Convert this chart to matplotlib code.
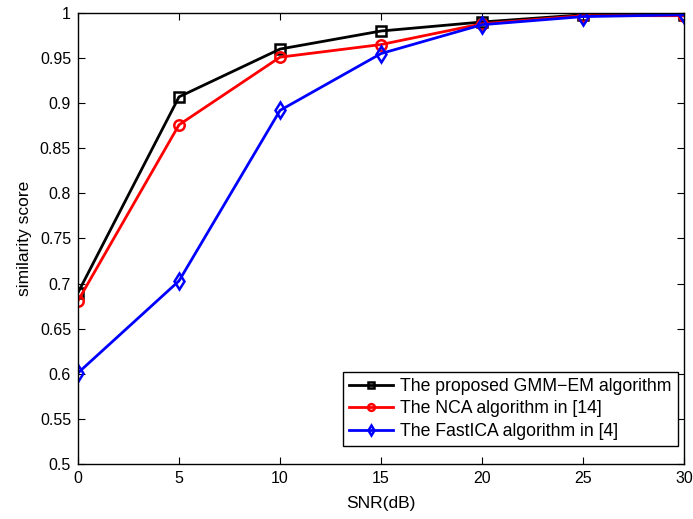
import matplotlib
matplotlib.use("Agg")
import matplotlib.pyplot as plt

plt.rcParams['font.family'] = ['Liberation Sans', 'DejaVu Sans']

snr = [0, 5, 10, 15, 20, 25, 30]
gmm_em = [0.690, 0.907, 0.960, 0.980, 0.990, 0.998, 0.998]
nca = [0.681, 0.876, 0.951, 0.965, 0.988, 0.997, 0.997]
fastica = [0.601, 0.703, 0.892, 0.955, 0.987, 0.996, 0.998]

labels = ["The proposed GMM\u2212EM algorithm",
          "The NCA algorithm in [14]",
          "The FastICA algorithm in [4]"]

fig = plt.figure(figsize=(6.93, 5.19), dpi=100)
ax = fig.add_axes([0.1126, 0.106, 0.8744, 0.869])

ax.plot(snr, gmm_em, color='black', lw=2, marker='s', ms=6.5, mew=1.8,
        mfc='none', label=labels[0])
ax.plot(snr, nca, color='red', lw=2, marker='o', ms=7.5, mew=1.8,
        mfc='none', label=labels[1])
ax.plot(snr, fastica, color='blue', lw=2, marker='d', ms=8, mew=1.8,
        mfc='none', label=labels[2])

ax.set_xlim(0, 30)
ax.set_ylim(0.5, 1.0)
ax.set_xticks(range(0, 31, 5))
ax.set_yticks([0.5 + 0.05 * i for i in range(11)])
ax.set_yticklabels(['0.5', '0.55', '0.6', '0.65', '0.7', '0.75', '0.8',
                    '0.85', '0.9', '0.95', '1'])
ax.tick_params(direction='in', top=True, right=True, length=5, width=0.8,
               labelsize=11.5, pad=5)
for s in ax.spines.values():
    s.set_linewidth(1.0)

ax.set_xlabel('SNR(dB)', fontsize=12.5, labelpad=7)
ax.set_ylabel('similarity score', fontsize=12.5, labelpad=6)

leg = ax.legend(loc='lower right', bbox_to_anchor=(0.990, 0.040),
                borderaxespad=0, fontsize=12.7, fancybox=False,
                edgecolor='black', framealpha=1, handlelength=2.5,
                labelspacing=0.3, borderpad=0.35,
                handletextpad=0.4, markerscale=0.65)
leg.get_frame().set_linewidth(1.0)

fig.savefig('out.png', dpi=100)
